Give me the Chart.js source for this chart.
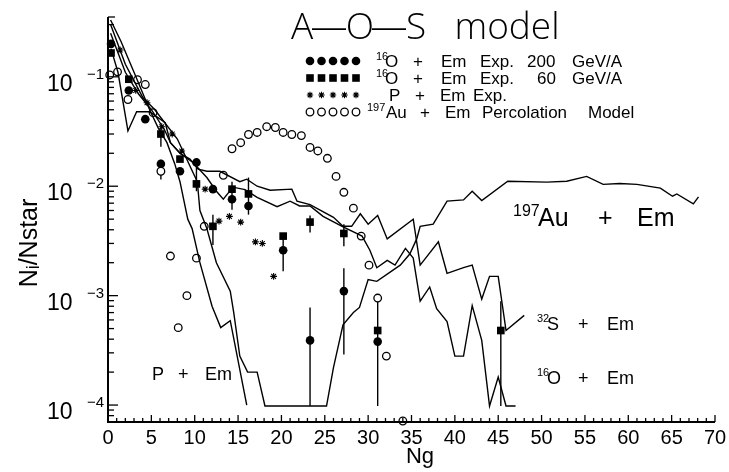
<!DOCTYPE html>
<html><head><meta charset="utf-8">
<script src="https://cdn.jsdelivr.net/npm/chart.js@4.4.0/dist/chart.umd.min.js"></script>
<style>html,body{margin:0;padding:0;background:#fff;}canvas{display:block;}</style>
</head><body>
<canvas id="c" width="729" height="472"></canvas>
<script>
// ---------------- DATA ----------------
const xTickLabels = [0,5,10,15,20,25,30,35,40,45,50,55,60,65,70];
const yDecades = [1e-1, 1e-2, 1e-3, 1e-4];
const yTickExp = ['-1','-2','-3','-4'];
const floorN = 9.8e-5;

// A-O-S model curves
const pEmModelNg = [0.3, 1.5, 3.0, 4.8, 5.8, 6.8, 7.7, 8.3, 9.2, 9.7, 10.6, 12.0, 13.0, 14.1, 16.0];
const pEmModelN  = [0.33, 0.21, 0.11, 0.05, 0.034, 0.025, 0.016, 0.011, 0.005, 0.0041, 0.002, 0.0008, 0.00051, 0.00059, 0.0001];

const auModelNg = [0.3, 2.0, 4.0, 5.4, 8.0, 8.9, 9.5, 10.3, 10.6, 11.4, 12.5, 14.1, 14.5, 15.2, 16.1, 17.2, 18.1, 25.2, 26.0, 27.1, 28.3, 29.0, 30.0, 31.0, 33.7, 34.8, 35.6, 36.0, 37.5, 39.1, 41.0, 42.0, 43.1, 46.1, 50.6, 52.9, 55.2, 57.1, 59.0, 61.0, 63.7, 65.1, 65.6, 67.5, 68.1];
const auModelN  = [0.30, 0.13, 0.065, 0.05, 0.027, 0.019, 0.015, 0.011, 0.006, 0.0041, 0.002, 0.0011, 0.0007, 0.00028, 0.0002, 0.0002, floorN, floorN, 0.00022, 0.00054, 0.0007, 0.00078, 0.0014, 0.00135, 0.0019, 0.0024, 0.0033, 0.0043, 0.0045, 0.0073, 0.0075, 0.009, 0.0074, 0.0111, 0.0109, 0.0111, 0.0123, 0.0104, 0.0106, 0.0104, 0.0096, 0.0081, 0.0085, 0.0069, 0.008];

const sModelNg = [0.35, 1.15, 2.3, 3.3, 4.8, 6.6, 7.2, 8.3, 9.45, 10.4, 11.4, 12.9, 15.2, 16.0, 17.2, 18.7, 21.2, 21.8, 23.3, 26.0, 27.1, 28.1, 29.1, 30.0, 31.1, 32.2, 35.2, 36.0, 38.1, 39.1, 41.0, 42.0, 43.1, 44.0, 45.0, 45.9, 48.0];
const sModelN  = [0.18, 0.11, 0.032, 0.048, 0.048, 0.038, 0.025, 0.020, 0.0177, 0.0143, 0.0137, 0.0137, 0.011, 0.0116, 0.010, 0.0092, 0.0094, 0.0073, 0.0068, 0.0052, 0.0043, 0.0043, 0.0056, 0.0045, 0.0054, 0.0033, 0.005, 0.0019, 0.0031, 0.0016, 0.0018, 0.0019, 0.00093, 0.0015, 0.0015, 0.00048, 0.00066];

const oModelNg = [0.3, 2.0, 3.5, 5.0, 6.5, 7.2, 8.3, 9.8, 11.4, 12.5, 13.3, 14.4, 15.8, 17.2, 19.5, 21.0, 22.1, 23.3, 24.8, 27.0, 29.3, 30.2, 31.0, 32.2, 33.1, 34.3, 35.2, 36.0, 37.1, 37.9, 39.1, 40.0, 41.0, 42.0, 43.1, 44.0, 45.0, 45.9, 47.0];
const oModelN  = [0.25, 0.11, 0.07, 0.05, 0.033, 0.025, 0.02, 0.0165, 0.012, 0.009, 0.0076, 0.0098, 0.0093, 0.0079, 0.0065, 0.0073, 0.0066, 0.0066, 0.0053, 0.0043, 0.0035, 0.0026, 0.0018, 0.0021, 0.0019, 0.0027, 0.0022, 0.00089, 0.0012, 0.00076, 0.00058, 0.00028, 0.00028, 0.00081, 0.00039, floorN, 0.00018, floorN, floorN];

// Experimental points
const o200Ng = [0.35, 2.4, 4.3, 6.1, 8.3, 10.2, 12.1, 14.3, 16.2, 20.2, 23.3, 27.2, 31.1];
const o200N  = [0.20, 0.075, 0.041, 0.016, 0.0137, 0.0165, 0.0094, 0.0076, 0.0066, 0.0026, 0.00039, 0.0011, 0.00038];

const o60Ng = [0.35, 2.4, 6.1, 8.3, 10.2, 12.1, 14.3, 16.2, 20.2, 23.3, 27.2, 31.1, 45.3];
const o60N  = [0.165, 0.095, 0.030, 0.0177, 0.0105, 0.0043, 0.0094, 0.0085, 0.0035, 0.0047, 0.0037, 0.00048, 0.00048];

const pExpNg = [1.4, 3.2, 4.5, 6.2, 7.4, 8.5, 11.2, 12.8, 14.0, 15.3, 17.0, 17.8, 19.1];
const pExpN  = [0.176, 0.075, 0.058, 0.035, 0.030, 0.021, 0.0094, 0.0048, 0.0053, 0.0047, 0.0031, 0.0030, 0.0015];

const auPercNg = [0.2, 1.1, 2.3, 3.4, 4.3, 5.2, 6.1, 7.2, 8.1, 9.1, 10.2, 11.1, 13.3, 14.3, 15.3, 16.2, 17.2, 18.3, 19.3, 20.2, 21.2, 22.3, 23.3, 24.2, 25.3, 26.3, 27.2, 28.3, 29.2, 30.1, 31.1, 32.1, 34.0];
const auPercN  = [0.104, 0.111, 0.062, 0.094, 0.085, 0.047, 0.0137, 0.0023, 0.00051, 0.001, 0.0022, 0.0043, 0.0126, 0.022, 0.025, 0.0297, 0.031, 0.035, 0.0344, 0.031, 0.0297, 0.029, 0.0226, 0.021, 0.018, 0.0123, 0.0088, 0.0063, 0.0035, 0.0019, 0.00095, 0.00028, 0.0000715];

// Error bars (vertical)
const errNg = [6.1, 6.1, 10.2, 12.1, 14.3, 16.2, 20.2, 23.3, 23.3, 27.2, 27.2, 31.1, 45.3];
const errHi = [0.034, 0.0175, 0.0175, 0.0055, 0.011, 0.012, 0.0036, 0.0054, 0.00078, 0.00448, 0.00178, 0.00093, 0.00089];
const errLo = [0.023, 0.0115, 0.009, 0.0029, 0.0061, 0.0055, 0.00167, 0.00378, floorN, 0.00282, 0.00029, floorN, floorN];

// ---------------- CHART ----------------
const yMin = 7.15e-5, yMax = 0.352;
function pts(xs, ys){ return xs.map((x,i)=>({x:x, y:ys[i]})); }
const lineStyle = {showLine:true, pointRadius:0, borderColor:'#000', borderWidth:1.4, fill:false, tension:0};

const FONT = '"Liberation Sans", Arial, sans-serif';
const THIN = '"Open Sans", "Liberation Sans", sans-serif';

function drawMarker(ctx, style, x, y){
  ctx.save();
  ctx.fillStyle = '#000'; ctx.strokeStyle = '#000';
  if (style === 'fcircle'){ ctx.beginPath(); ctx.arc(x,y,4.3,0,Math.PI*2); ctx.fill(); }
  else if (style === 'fsquare'){ ctx.fillRect(x-3.8,y-3.8,7.6,7.6); }
  else if (style === 'star'){
    ctx.lineWidth=1.1; const r=3.2; ctx.beginPath();
    for (let k=0;k<4;k++){ const a=k*Math.PI/4; ctx.moveTo(x-r*Math.cos(a),y-r*Math.sin(a)); ctx.lineTo(x+r*Math.cos(a),y+r*Math.sin(a)); }
    ctx.stroke();
  } else if (style === 'ocircle'){ ctx.lineWidth=1.3; ctx.fillStyle='#fff'; ctx.beginPath(); ctx.arc(x,y,3.8,0,Math.PI*2); ctx.fill(); ctx.stroke(); }
  ctx.restore();
}

function seg(ctx, parts, y, size){
  // parts: [text, x, isSup]
  ctx.save(); ctx.fillStyle='#000'; ctx.textAlign='left'; ctx.textBaseline='alphabetic';
  for (const p of parts){
    if (p[2]){ ctx.font = Math.round(size*0.62)+'px '+FONT; ctx.fillText(p[0], p[1], y - size*0.42); }
    else { ctx.font = size+'px '+FONT; ctx.fillText(p[0], p[1], y); }
  }
  ctx.restore();
}

const errorBarPlugin = {
  id:'errbars',
  beforeDatasetsDraw(chart){
    const ctx = chart.ctx, xs = chart.scales.x, ys = chart.scales.y;
    ctx.save(); ctx.strokeStyle='#000'; ctx.lineWidth=1.4;
    for (let i=0;i<errNg.length;i++){
      const x = xs.getPixelForValue(errNg[i]);
      ctx.beginPath(); ctx.moveTo(x, ys.getPixelForValue(errHi[i])); ctx.lineTo(x, ys.getPixelForValue(errLo[i])); ctx.stroke();
    }
    ctx.restore();
  }
};

const axesPlugin = {
  id:'axes',
  afterDraw(chart){
    const ctx = chart.ctx, a = chart.chartArea, xs = chart.scales.x, ys = chart.scales.y;
    ctx.save(); ctx.strokeStyle='#000'; ctx.fillStyle='#000';
    ctx.lineWidth = 2;
    ctx.beginPath(); ctx.moveTo(a.left, a.top); ctx.lineTo(a.left, a.bottom); ctx.lineTo(a.right, a.bottom); ctx.stroke();
    ctx.lineWidth = 1.3;
    ctx.beginPath(); ctx.moveTo(a.left, a.top); ctx.lineTo(a.left+7, a.top); ctx.stroke();
    for (let i=0;i<=70;i++){
      const x = xs.getPixelForValue(i); const len = (i%5===0)?7:4;
      ctx.beginPath(); ctx.moveTo(x, a.bottom); ctx.lineTo(x, a.bottom-len); ctx.stroke();
    }
    for (let d=-5; d<=0; d++){
      for (let m=1;m<=9;m++){
        const v = m*Math.pow(10,d); if (v<yMin || v>yMax) continue;
        const y = ys.getPixelForValue(v); const len = (m===1)?10:6;
        ctx.beginPath(); ctx.moveTo(a.left, y); ctx.lineTo(a.left+len, y); ctx.stroke();
      }
    }
    ctx.font = '20px '+FONT; ctx.textAlign='center'; ctx.textBaseline='middle';
    xTickLabels.forEach(v=>{ ctx.fillText(String(v), xs.getPixelForValue(v), 438); });
    yDecades.forEach((v,i)=>{
      const y = ys.getPixelForValue(v);
      ctx.font='23px '+FONT; ctx.textAlign='left'; ctx.textBaseline='alphabetic';
      ctx.fillText('10', 47, y+14);
      ctx.font='15px '+FONT; ctx.fillText('\u2212'+yTickExp[i].slice(1), 87, y+2);
    });
    ctx.font='22px '+FONT; ctx.textAlign='center'; ctx.textBaseline='middle';
    ctx.fillText('Ng', 420, 457);
    ctx.save(); ctx.translate(30, 243); ctx.rotate(-Math.PI/2);
    ctx.font='25px '+FONT; ctx.fillText('N\u1d62/Nstar', 0, 0); ctx.restore();
    // title
    ctx.font='300 37px '+THIN; ctx.textAlign='center'; ctx.textBaseline='alphabetic';
    const tparts = [['A',302],['\u2014',329],['O',360],['\u2014',389],['S',416],['model',507]];
    tparts.forEach(p=>ctx.fillText(p[0], p[1], 39));
    // legend
    const lx = [310,321.5,333,344.5,356];
    const rows = [
      {y:61, m:'fcircle', parts:[['16',376,true],['O',385],['+',413],['Em',441],['Exp.',480],['200',527],['GeV/A',572]]},
      {y:78, m:'fsquare', parts:[['16',376,true],['O',385],['+',413],['Em',441],['Exp.',480],['60',537],['GeV/A',572]]},
      {y:95, m:'star',    parts:[['P',389],['+',415],['Em',440],['Exp.',473]]},
      {y:112, m:'ocircle', parts:[['197',367,true],['Au',386],['+',420],['Em',445],['Percolation',482],['Model',588]]}
    ];
    rows.forEach(r=>{
      lx.forEach(x=>drawMarker(ctx, r.m, x, r.y));
      seg(ctx, r.parts, r.y+6, 17);
    });
    seg(ctx, [['197',513,true],['Au',538],['+',598],['Em',637]], 226, 25);
    seg(ctx, [['32',537,true],['S',547],['+',578],['Em',607]], 330, 18);
    seg(ctx, [['16',537,true],['O',547],['+',578],['Em',607]], 384, 18);
    seg(ctx, [['P',152],['+',178],['Em',205]], 380, 18);
    ctx.restore();
  }
};

new Chart(document.getElementById('c').getContext('2d'), {
  type:'scatter',
  data:{datasets:[
    Object.assign({label:'P + Em (A-O-S)', data:pts(pEmModelNg,pEmModelN)}, lineStyle),
    Object.assign({label:'197Au + Em (A-O-S)', data:pts(auModelNg,auModelN)}, lineStyle),
    Object.assign({label:'32S + Em (A-O-S)', data:pts(sModelNg,sModelN)}, lineStyle),
    Object.assign({label:'16O + Em (A-O-S)', data:pts(oModelNg,oModelN)}, lineStyle),
    {label:'197Au + Em Percolation Model', data:pts(auPercNg,auPercN), pointStyle:'circle', pointRadius:3.8, backgroundColor:'#fff', borderColor:'#000', borderWidth:1.3, clip:false},
    {label:'P + Em Exp.', data:pts(pExpNg,pExpN), pointStyle:'star', pointRadius:3.4, backgroundColor:'#000', borderColor:'#000', borderWidth:1.1, clip:false},
    {label:'16O + Em Exp. 60 GeV/A', data:pts(o60Ng,o60N), pointStyle:'rect', pointRadius:5.4, backgroundColor:'#000', borderColor:'#000', borderWidth:0, clip:false},
    {label:'16O + Em Exp. 200 GeV/A', data:pts(o200Ng,o200N), pointStyle:'circle', pointRadius:4.3, backgroundColor:'#000', borderColor:'#000', borderWidth:0, clip:false}
  ]},
  options:{
    responsive:false, animation:false, devicePixelRatio:1,
    layout:{padding:{left:108, top:17, right:14, bottom:50}},
    plugins:{legend:{display:false}, tooltip:{enabled:false}, title:{display:false}},
    scales:{
      x:{type:'linear', min:0, max:70, display:false},
      y:{type:'logarithmic', min:yMin, max:yMax, display:false}
    }
  },
  plugins:[errorBarPlugin, axesPlugin]
});
</script>
</body></html>
